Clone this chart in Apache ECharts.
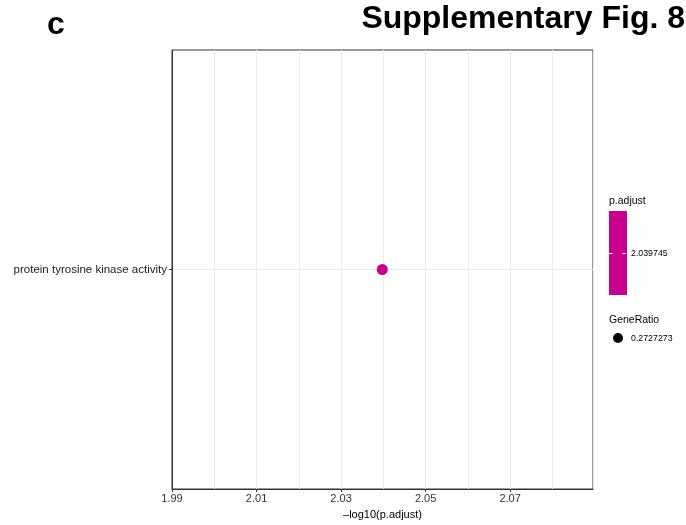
<!DOCTYPE html>
<html>
<head>
<meta charset="utf-8">
<script src="https://cdn.jsdelivr.net/npm/echarts@6/dist/echarts.min.js"></script>
<style>
    html, body { margin: 0; padding: 0; background: #fff; }
    #chart { width: 686px; height: 525px; }
</style>
</head>
<body>
<div id="chart"></div>
<script>
// 数据
const categories = ['protein tyrosine kinase activity']
const logPadj = [2.039745]
const geneRatio = [0.2727273]
const xTickLabels = [1.99, 2.01, 2.03, 2.05, 2.07]
const padjLegendTicks = [2.039745]
const geneRatioLegend = [0.2727273]

const FONT = '"Liberation Sans", Arial, Helvetica, sans-serif'
const DOT_COLOR = '#C8008F'
const X_MIN = 1.99
const X_MAX = 2.0896

const myChart = echarts.init(document.getElementById('chart'))

const option = {
    backgroundColor: '#fff',
    animation: false,
    textStyle: { fontFamily: FONT },
    grid: {
        left: 172,
        right: 93,
        top: 50,
        bottom: 33,
        show: true,
        borderColor: '#333',
        borderWidth: 1,
    },
    xAxis: [
        {
            type: 'value',
            min: X_MIN,
            max: X_MAX,
            interval: 0.01,
            name: '\u2013log10(p.adjust)',
            nameLocation: 'middle',
            nameGap: 20,
            nameTextStyle: { color: '#000', fontSize: 11, fontFamily: FONT },
            axisLine: { show: true, lineStyle: { color: '#333', width: 1 } },
            axisTick: {
                show: true,
                customValues: xTickLabels,
                length: 3,
                lineStyle: { color: '#333' },
            },
            axisLabel: {
                customValues: xTickLabels,
                formatter: (v) => v.toFixed(2),
                color: '#333',
                fontSize: 11,
                margin: 4,
            },
            splitLine: { show: false },
            z: 3,
        },
        // 网格线（每 0.01 一条）
        {
            type: 'value',
            position: 'bottom',
            min: X_MIN,
            max: X_MAX,
            interval: 0.01,
            axisLine: { show: false },
            axisTick: { show: false },
            axisLabel: { show: false },
            splitLine: { show: true, lineStyle: { color: '#EBEBEB', width: 1 } },
        },
    ],
    yAxis: {
        type: 'value',
        min: 0,
        max: 2,
        interval: 1,
        axisLine: { show: true, lineStyle: { color: '#333', width: 1 } },
        axisTick: {
            show: true,
            customValues: [1],
            length: 3,
            lineStyle: { color: '#333' },
        },
        axisLabel: {
            customValues: [1],
            formatter: (v) => categories[Math.round(v) - 1] || '',
            color: '#1A1A1A',
            fontSize: 11.5,
            margin: 5,
        },
        splitLine: { show: true, lineStyle: { color: '#EBEBEB', width: 1 } },
    },
    series: [
        {
            type: 'scatter',
            symbol: 'circle',
            symbolSize: 11,
            itemStyle: { color: DOT_COLOR, opacity: 1 },
            data: categories.map((c, i) => [logPadj[i], i + 1, geneRatio[i]]),
        },
    ],
    graphic: [
        // 标题
        {
            type: 'text',
            left: 47,
            top: 9,
            style: { text: 'c', font: 'bold 32px ' + FONT, fill: '#000' },
        },
        {
            type: 'text',
            right: 1,
            top: 3,
            style: { text: 'Supplementary Fig. 8', font: 'bold 32px ' + FONT, fill: '#000' },
        },
        // p.adjust 图例
        {
            type: 'text',
            left: 609,
            top: 196,
            style: { text: 'p.adjust', font: '10.5px ' + FONT, fill: '#000' },
        },
        {
            type: 'rect',
            shape: { x: 609, y: 211, width: 18, height: 84 },
            style: { fill: DOT_COLOR },
        },
        {
            type: 'line',
            shape: { x1: 609, y1: 253.5, x2: 612.5, y2: 253.5 },
            style: { stroke: '#fff', lineWidth: 1 },
        },
        {
            type: 'line',
            shape: { x1: 622.5, y1: 253.5, x2: 626, y2: 253.5 },
            style: { stroke: '#fff', lineWidth: 1 },
        },
        {
            type: 'text',
            left: 631,
            top: 249,
            style: { text: String(padjLegendTicks[0]), font: '8.8px ' + FONT, fill: '#000' },
        },
        // GeneRatio 图例
        {
            type: 'text',
            left: 609,
            top: 315,
            style: { text: 'GeneRatio', font: '10.5px ' + FONT, fill: '#000' },
        },
        {
            type: 'circle',
            shape: { cx: 618, cy: 338, r: 5 },
            style: { fill: '#000' },
        },
        {
            type: 'text',
            left: 631,
            top: 334,
            style: { text: String(geneRatioLegend[0]), font: '8.8px ' + FONT, fill: '#000' },
        },
    ],
}

myChart.setOption(option)
</script>
</body>
</html>
